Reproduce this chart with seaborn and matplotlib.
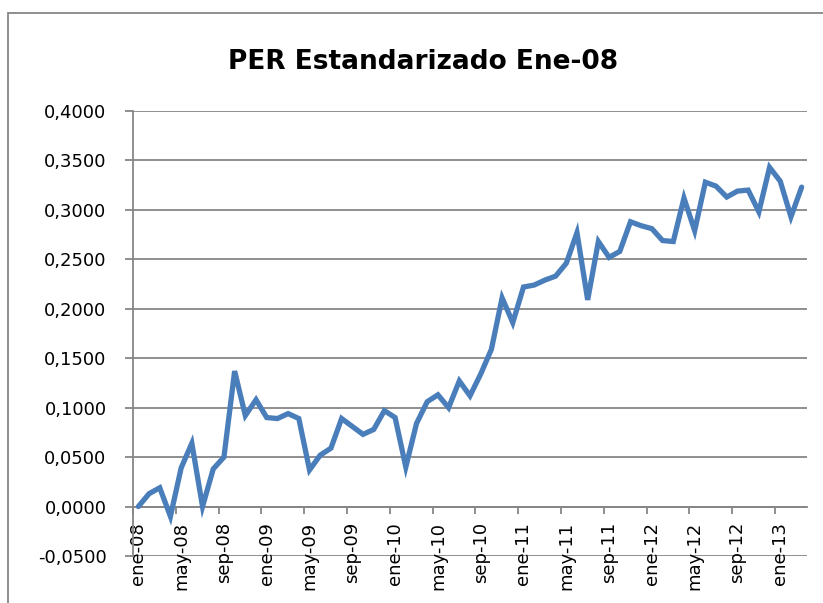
import pandas as pd
import matplotlib.pyplot as plt
from matplotlib.patches import Rectangle
from matplotlib.ticker import FuncFormatter, FixedLocator
import seaborn as sns

#   Data: monthly standardised PER, ene-08 .. mar-13
per = [
    0.000, 0.013, 0.019, -0.010, 0.039, 0.064, 0.000, 0.038, 0.050, 0.137,
    0.092, 0.108, 0.090, 0.089, 0.094, 0.089, 0.037, 0.052, 0.059, 0.089,
    0.081, 0.073, 0.078, 0.097, 0.090, 0.040, 0.084, 0.106, 0.113, 0.100,
    0.127, 0.112, 0.134, 0.159, 0.211, 0.186, 0.222, 0.224, 0.229, 0.233,
    0.246, 0.277, 0.209, 0.268, 0.252, 0.258, 0.288, 0.284, 0.281, 0.269,
    0.268, 0.312, 0.279, 0.328, 0.324, 0.313, 0.319, 0.320, 0.298, 0.343,
    0.329, 0.293, 0.323,
]
tick_labels = ["ene-08", "may-08", "sep-08", "ene-09", "may-09", "sep-09",
               "ene-10", "may-10", "sep-10", "ene-11", "may-11", "sep-11",
               "ene-12", "may-12", "sep-12", "ene-13"]
y_ticks = [-0.05, 0.0, 0.05, 0.10, 0.15, 0.20, 0.25, 0.30, 0.35, 0.40]

df = pd.DataFrame({"mes": range(len(per)), "per": per})

sns.set_style("white")
plt.rcParams["font.family"] = ["DejaVu Sans"]
plt.rcParams["text.color"] = "black"
plt.rcParams["xtick.labelcolor"] = "black"
plt.rcParams["ytick.labelcolor"] = "black"

grey = "#868686"
fig = plt.figure(figsize=(8.23, 6.03), dpi=100)
ax = fig.add_axes([133 / 823, 1 - 556 / 603, (807 - 133) / 823, (556 - 111) / 603])

#   Grid lines (Excel style)
for yv in y_ticks:
    ax.axhline(yv, color=grey, lw=1.3, zorder=0)

sns.lineplot(data=df, x="mes", y="per", color="#4A7EBB", lw=3.8, ax=ax,
             solid_joinstyle="miter", zorder=3)

ax.set_xlim(-0.5, len(per) - 0.5)
ax.set_ylim(-0.05, 0.40)
ax.set_xlabel("")
ax.set_ylabel("")

#   Y axis
ax.set_yticks(y_ticks)
ax.yaxis.set_major_formatter(FuncFormatter(lambda v, p: f"{v:.4f}".replace(".", ",")))
ax.tick_params(axis="y", direction="out", length=6, width=1.3, color=grey,
               pad=13, labelsize=13, left=True)

#   X axis sits at y=0; labels at categories, ticks between them
ax.spines["bottom"].set_position(("data", 0))
ax.spines["bottom"].set_color(grey)
ax.spines["bottom"].set_linewidth(1.3)
ax.spines["left"].set_color(grey)
ax.spines["left"].set_linewidth(1.3)
ax.spines["top"].set_visible(False)
ax.spines["right"].set_visible(False)

ax.xaxis.set_major_locator(FixedLocator([4 * i for i in range(len(tick_labels))]))
ax.set_xticklabels(tick_labels, rotation=90)
ax.xaxis.set_minor_locator(FixedLocator([4 * i - 0.5 for i in range(len(tick_labels))]))
ax.tick_params(axis="x", which="major", length=0, pad=11, labelsize=13)
ax.tick_params(axis="x", which="minor", direction="out", length=5, width=1.3,
               color=grey, bottom=True)

fig.text(0.514, 1 - 62 / 603, "PER Estandarizado Ene-08", ha="center", va="center",
         fontsize=19, fontweight="bold", color="black")

#   Chart area border
fig.patches.append(Rectangle((8 / 823, -0.1), 1.1, 1.1 - 13 / 603, transform=fig.transFigure,
                             fill=False, edgecolor=grey, lw=1.3))

fig.savefig("out.png", dpi=100)
